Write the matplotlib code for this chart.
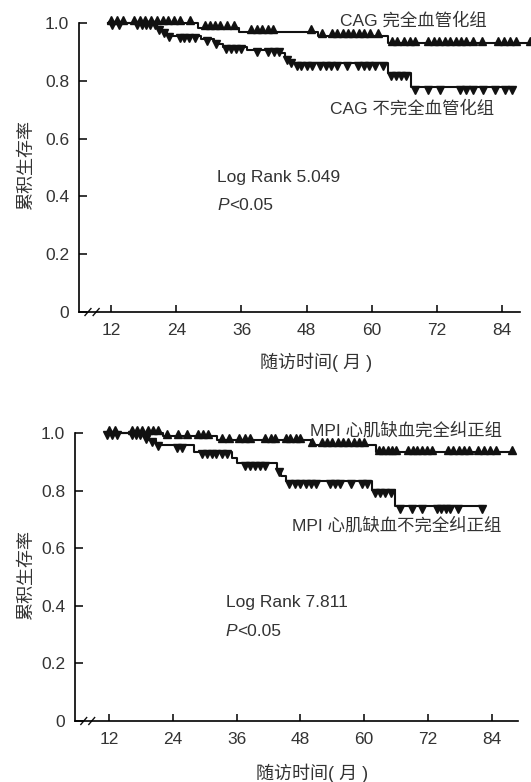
import numpy as np
import matplotlib
matplotlib.use("Agg")
import matplotlib.pyplot as plt
from matplotlib.transforms import offset_copy, blended_transform_factory

plt.rcParams['font.family'] = ['Liberation Sans', 'Noto Sans CJK SC']
plt.rcParams['axes.unicode_minus'] = False

TXT = '#333333'

# ---------------- data ----------------
xticks = [12, 24, 36, 48, 60, 72, 84]
yticks = [0, 0.2, 0.4, 0.6, 0.8, 1.0]
ytick_labels = ['0', '0.2', '0.4', '0.6', '0.8', '1.0']

# top: CAG complete revascularisation
cag_full_t = [11.5, 28.0, 35.5, 50.0, 63.0, 89.0]
cag_full_s = [1.0, 0.983, 0.970, 0.955, 0.930, 0.930]
cag_full_cens = [12.0, 13.1, 14.2, 16.2, 17.3, 18.3, 19.4, 20.4, 21.5, 22.5, 23.6, 24.6,
                 26.5, 29.2, 30.2, 31.2, 32.0, 33.4, 34.6, 37.8, 38.8, 39.8, 40.8, 41.8,
                 48.7, 50.8, 52.6, 53.6, 54.6, 55.6, 56.6, 57.6, 58.6, 59.6, 61.2,
                 63.7, 64.6, 65.9, 67.0, 68.0, 70.4, 71.4, 72.4, 73.4, 74.4, 75.4, 76.4,
                 77.4, 78.6, 80.3, 83.2, 84.3, 85.4, 86.6, 89.0]

# top: CAG incomplete revascularisation
cag_part_t = [11.5, 20.5, 21.3, 22.2, 23.2, 28.6, 31.0, 31.8, 32.6, 37.0, 43.3, 44.0,
              44.8, 45.6, 63.0, 67.1, 86.0]
cag_part_s = [1.0, 0.984, 0.973, 0.961, 0.955, 0.945, 0.936, 0.928, 0.918, 0.908, 0.895,
              0.882, 0.870, 0.860, 0.826, 0.778, 0.778]
cag_part_cens = [12.2, 13.4, 16.8, 17.6, 18.4, 19.2, 20.0, 20.9, 21.8, 22.7, 24.6, 25.5,
                 26.4, 27.5, 29.6, 31.3, 33.2, 34.1, 35.0, 35.9, 38.8, 40.9, 41.9, 42.9,
                 44.4, 45.2, 46.3, 47.0, 48.0, 49.0, 50.5, 51.5, 52.5, 53.5, 55.5, 57.5,
                 58.5, 59.5, 60.5, 62.0, 63.5, 64.4, 65.3, 66.2, 68.0, 70.3, 72.5, 76.2,
                 77.4, 78.6, 80.5, 82.7, 84.5, 85.8]

# bottom: MPI ischaemia completely corrected
mpi_full_t = [11.5, 22.2, 32.3, 50.0, 62.2, 87.8]
mpi_full_s = [1.0, 0.988, 0.974, 0.960, 0.933, 0.933]
mpi_full_cens = [12.0, 13.2, 16.3, 17.3, 18.3, 19.3, 20.3, 21.3, 23.0, 25.0, 26.7, 28.7,
                 29.6, 30.6, 33.2, 34.5, 36.5, 37.6, 38.6, 41.4, 42.4, 43.3, 45.2, 46.1,
                 47.1, 48.0, 50.2, 52.0, 53.0, 54.0, 55.0, 56.0, 57.0, 58.0, 59.0, 60.0,
                 62.8, 63.6, 64.4, 65.2, 66.0, 68.2, 69.1, 70.0, 70.9, 71.8, 72.7, 75.7,
                 76.7, 77.8, 78.8, 79.8, 81.4, 82.5, 83.6, 84.7, 87.8]

# bottom: MPI ischaemia incompletely corrected
mpi_part_t = [11.5, 18.5, 19.5, 20.8, 21.8, 28.0, 35.1, 36.0, 43.6, 44.4, 45.3, 61.5,
              65.8, 82.3]
mpi_part_s = [1.0, 0.988, 0.977, 0.965, 0.958, 0.935, 0.912, 0.895, 0.872, 0.849, 0.833,
              0.802, 0.746, 0.746]
mpi_part_cens = [11.6, 12.5, 13.5, 16.3, 17.0, 17.8, 18.9, 20.0, 21.2, 24.8, 25.7, 29.5,
                 30.4, 31.3, 32.2, 33.2, 34.2, 37.6, 38.5, 39.5, 40.4, 41.4, 44.0, 45.8,
                 47.0, 48.0, 49.0, 50.0, 51.0, 53.5, 54.5, 55.5, 57.5, 59.5, 60.5, 62.0,
                 63.0, 64.0, 65.0, 66.7, 69.0, 70.9, 73.7, 74.5, 75.4, 76.2, 77.6, 82.1]


def level_at(times, surv, t):
    idx = np.searchsorted(times, t, side='right') - 1
    return np.asarray(surv)[np.clip(idx, 0, len(surv) - 1)]


def km_curve(ax, fig, times, surv, cens, marker, dy):
    ax.step(times, surv, where='post', color='#111111', lw=1.5, clip_on=False, zorder=3)
    tr = offset_copy(ax.transData, fig=fig, x=0, y=dy, units='dots')
    ax.plot(cens, level_at(times, surv, cens), ls='none', marker=marker, ms=5.2,
            color='#111111', mec='#111111', transform=tr, clip_on=False, zorder=4)


def setup_axes(ax, xlim):
    ax.set_xlim(*xlim)
    ax.set_ylim(0, 1.0)
    ax.spines['top'].set_visible(False)
    ax.spines['right'].set_visible(False)
    ax.spines['left'].set_linewidth(1.2)
    ax.spines['bottom'].set_linewidth(1.2)
    ax.set_xticks(xticks)
    ax.set_xticklabels([str(x) for x in xticks])
    ax.set_yticks(yticks)
    ax.set_yticklabels(ytick_labels)
    ax.tick_params(axis='y', direction='in', length=6, width=1.1, pad=7,
                   labelsize=12.5, labelcolor=TXT)
    ax.tick_params(axis='x', direction='in', length=5, width=1.1, pad=8,
                   labelsize=12.5, labelcolor=TXT)
    # axis-break marks on the x axis
    tr = blended_transform_factory(ax.transData, ax.transAxes)
    x0 = xlim[0] + 1.1
    for dx in (0, 1.5):
        ax.plot([x0 + dx, x0 + dx + 1.1], [-0.012, 0.012], color='#111111', lw=1.0,
                transform=tr, clip_on=False)


fig = plt.figure(figsize=(5.31, 7.82), dpi=100)

# ---------------- top panel ----------------
ax1 = fig.add_axes([0.1488, 0.601, 0.831, 0.3696])
setup_axes(ax1, (6.1, 87.3))
km_curve(ax1, fig, cag_full_t, cag_full_s, cag_full_cens, '^', 2.5)
km_curve(ax1, fig, cag_part_t, cag_part_s, cag_part_cens, 'v', -2.5)
ax1.text(54.2, 1.01, 'CAG 完全血管化组', fontsize=12.5, color=TXT, va='center', ha='left')
ax1.text(52.3, 0.706, 'CAG 不完全血管化组', fontsize=12.5, color=TXT, va='center', ha='left')
ax1.text(31.5, 0.467, 'Log Rank 5.049', fontsize=12.5, color=TXT, va='center', ha='left')
p1 = ax1.text(31.5, 0.37, 'P', fontsize=12.5, color=TXT, va='center', ha='left', style='italic')
ax1.annotate('<0.05', xy=(1, 0.5), xycoords=p1, va='center', ha='left', fontsize=12.5, color=TXT)

fig.text(27 / 531, 1 - 165 / 782, '累积生存率', rotation=90, fontsize=13, color=TXT,
         ha='center', va='center')
fig.text(316 / 531, 1 - 362 / 782, '随访时间( 月 )', fontsize=13, color=TXT,
         ha='center', va='center')

# ---------------- bottom panel ----------------
ax2 = fig.add_axes([0.1412, 0.078, 0.834, 0.3683])
setup_axes(ax2, (5.6, 88.9))
km_curve(ax2, fig, mpi_full_t, mpi_full_s, mpi_full_cens, '^', 2.5)
km_curve(ax2, fig, mpi_part_t, mpi_part_s, mpi_part_cens, 'v', -2.5)
ax2.text(49.8, 1.01, 'MPI 心肌缺血完全纠正组', fontsize=12.5, color=TXT, va='center', ha='left')
ax2.text(46.4, 0.68, 'MPI 心肌缺血不完全纠正组', fontsize=12.5, color=TXT, va='center', ha='left')
ax2.text(34.0, 0.41, 'Log Rank 7.811', fontsize=12.5, color=TXT, va='center', ha='left')
p2 = ax2.text(34.0, 0.3125, 'P', fontsize=12.5, color=TXT, va='center', ha='left', style='italic')
ax2.annotate('<0.05', xy=(1, 0.5), xycoords=p2, va='center', ha='left', fontsize=12.5, color=TXT)

fig.text(27 / 531, 1 - 575 / 782, '累积生存率', rotation=90, fontsize=13, color=TXT,
         ha='center', va='center')
fig.text(312 / 531, 1 - 773 / 782, '随访时间( 月 )', fontsize=13, color=TXT,
         ha='center', va='center')

fig.savefig('out.png', dpi=100)
